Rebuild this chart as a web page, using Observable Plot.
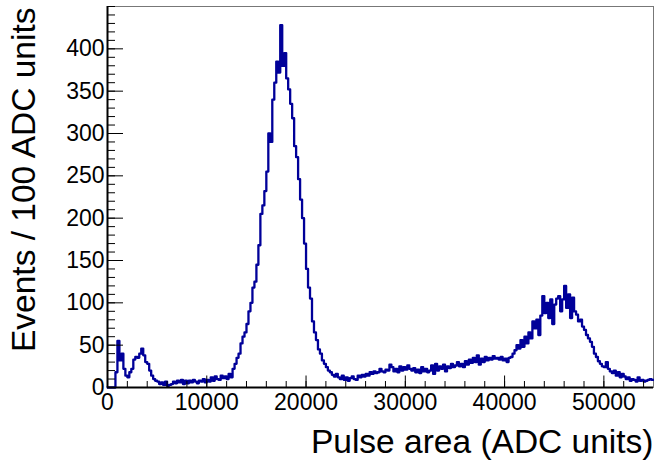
<!DOCTYPE html>
<html><head><meta charset="utf-8">
<script src="https://cdn.jsdelivr.net/npm/d3@7"></script>
<script src="https://cdn.jsdelivr.net/npm/@observablehq/plot@0.6"></script>
<style>
html,body{margin:0;padding:0;background:#fff;}
#chart svg{display:block;overflow:visible;}
</style></head><body><div id="chart"></div>
<script>
// Histogram: bins of 200 ADC units starting at 0 (events / 100 ADC units)
const binLow = 0;
const binWidth = 200;
const counts = [
  0,0,0,0,18,55,32,40,22,14,            // 0-1800
  12,18,22,33,36,35,40,46,38,30,        // 2000-3800
  28,20,14,10,8,7,4,6,3,7,              // 4000-5800
  2,3,4,7,5,8,6,9,4,8,                  // 6000-7800
  5,8,6,9,7,5,8,7,10,6,                 // 8000-9800
  9,7,12,8,13,10,9,14,11,13,            // 10000-11800
  10,16,12,22,28,35,40,52,60,65,        // 12000-13800
  75,90,100,118,125,145,168,205,215,232,// 14000-15800
  255,300,290,340,360,385,372,428,380,395, // 16000-17800
  365,352,335,318,285,272,246,222,200,170, // 18000-19800
  140,118,105,78,65,56,45,40,32,28,     // 20000-21800
  24,20,18,15,13,16,12,10,14,9,         // 22000-23800
  12,8,11,13,10,9,14,12,15,13,          // 24000-25800
  16,14,18,16,19,17,18,22,19,18,        // 26000-27800
  21,20,27,24,19,22,18,25,20,24,        // 28000-29800
  21,26,22,20,23,18,21,17,24,19,        // 30000-31800
  22,18,20,26,16,28,20,25,22,27,        // 32000-33800
  19,25,23,28,24,26,30,25,28,24,        // 34000-35800
  31,27,33,29,35,30,38,27,34,30,        // 36000-37800
  36,32,35,33,37,34,35,33,36,32,        // 38000-39800
  34,30,35,36,40,44,50,46,56,48,        // 40000-41800
  60,52,65,58,78,70,80,62,85,108,       // 42000-43800
  88,100,82,104,75,98,105,108,90,104,   // 44000-45800
  120,94,110,82,106,90,86,78,80,72,     // 46000-47800
  68,62,58,54,48,40,36,31,28,25,        // 48000-49800
  24,30,22,19,17,20,14,18,12,16,        // 50000-51800
  13,10,12,8,10,9,7,12,8,9,             // 52000-53800
  7,8,9,10,9                            // 54000-54800
];
const xDomain = [0, 55000];
const yDomain = [0, 450];
const xMajorTicks = [0, 10000, 20000, 30000, 40000, 50000];
const xMinorStep = 2000;
const yMajorTicks = [0, 50, 100, 150, 200, 250, 300, 350, 400];
const yMinorStep = 10;
const xTitle = "Pulse area (ADC units)";
const yTitle = "Events / 100 ADC units";

// step outline points (bin low edges + final upper edge)
const steps = counts.map((c, i) => ({x: binLow + i * binWidth, y: c}));
steps.push({x: binLow + counts.length * binWidth, y: counts[counts.length - 1]});

const xMinorTicks = d3.range(xDomain[0], xDomain[1] + 1, xMinorStep);
const yMinorTicks = d3.range(yDomain[0], yDomain[1] + 1, yMinorStep);

const W = 654, H = 463;
const mL = 107, mR = 1, mT = 6, mB = 76;
const pw = W - mL - mR, ph = H - mT - mB;
const font = "'Liberation Sans', Arial, Helvetica, sans-serif";

const chart = Plot.plot({
  width: W, height: H,
  marginLeft: mL, marginRight: mR, marginTop: mT, marginBottom: mB,
  style: {fontFamily: font, fontSize: "23px", color: "#000", background: "#fff"},
  x: {domain: xDomain},
  y: {domain: yDomain},
  marks: [
    Plot.frame({stroke: "#777", strokeWidth: 1}),
    Plot.line(steps, {x: "x", y: "y", curve: "step-after", stroke: "#000099", strokeWidth: 2.3}),
    Plot.tickY(yMinorTicks, {y: d => d, insetRight: pw - 8, stroke: "#000", strokeWidth: 1}),
    Plot.tickY(yMajorTicks, {y: d => d, insetRight: pw - 16, stroke: "#000", strokeWidth: 1}),
    Plot.tickX(xMinorTicks, {x: d => d, insetTop: ph - 6, stroke: "#000", strokeWidth: 1}),
    Plot.tickX(xMajorTicks, {x: d => d, insetTop: ph - 11.5, stroke: "#000", strokeWidth: 1}),
    Plot.ruleX([xDomain[0]], {stroke: "#000", strokeWidth: 2}),
    Plot.ruleY([yDomain[0]], {stroke: "#000", strokeWidth: 2}),
    Plot.axisY({ticks: yMajorTicks, tickSize: 0, tickPadding: 3, fontSize: 23, label: null, tickFormat: d => String(d)}),
    Plot.axisX({ticks: xMajorTicks, tickSize: 0, tickPadding: 6, fontSize: 23, label: null, tickFormat: d => String(d)}),
    Plot.text([xTitle], {frameAnchor: "bottom-right", text: d => d, textAnchor: "end", lineAnchor: "middle", dy: 55, fontSize: 33.5}),
    Plot.text([yTitle], {frameAnchor: "top-left", text: d => d, textAnchor: "end", lineAnchor: "middle", rotate: -90, dx: -83, dy: 1, fontSize: 33.5})
  ]
});
document.getElementById("chart").appendChild(chart);
</script>
</body></html>
